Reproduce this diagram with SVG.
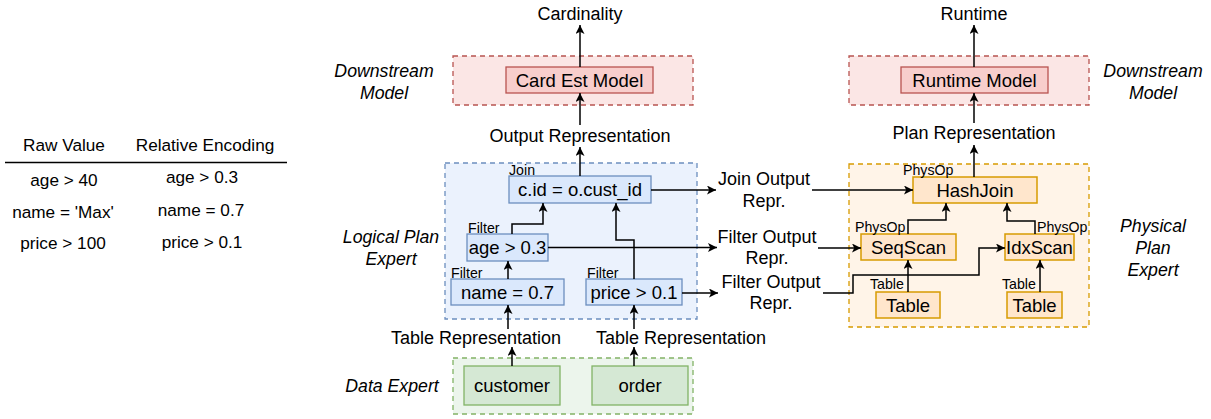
<svg xmlns="http://www.w3.org/2000/svg" width="1211" height="419" viewBox="0 0 1211 419">
<defs>
<marker id="arr" markerUnits="userSpaceOnUse" markerWidth="12" markerHeight="12" refX="9" refY="4.5" orient="auto">
<path d="M0,0 L9,4.5 L0,9 L2.2,4.5 z" fill="#000"/>
</marker>
<style>
text{font-family:"Liberation Sans",Arial,sans-serif;fill:#000}
.t{font-size:17.2px}
.lbl{font-size:18px;text-anchor:middle}
.it{font-size:17.7px;font-style:italic;text-anchor:middle}
.node{font-size:18.5px;text-anchor:middle}
.sm{font-size:14.2px}
.cred{fill:#f8cecc;fill-opacity:0.5;stroke:#b85450;stroke-width:1.3;stroke-dasharray:5 4}
.cblue{fill:#dae8fc;fill-opacity:0.55;stroke:#6c8ebf;stroke-width:1.3;stroke-dasharray:5 4}
.cgreen{fill:#d5e8d4;fill-opacity:0.45;stroke:#82b366;stroke-width:1.3;stroke-dasharray:5 4}
.corange{fill:#ffe6cc;fill-opacity:0.45;stroke:#d79b00;stroke-width:1.3;stroke-dasharray:5 4}
.red{fill:#f8cecc;stroke:#b85450;stroke-width:1.3}
.blue{fill:#dae8fc;stroke:#6c8ebf;stroke-width:1.3}
.green{fill:#d5e8d4;stroke:#82b366;stroke-width:1.3}
.orange{fill:#ffe6cc;stroke:#d79b00;stroke-width:1.5}
.c{fill:none;stroke:#000;stroke-width:1.5;marker-end:url(#arr)}
</style>
</defs>
<rect width="1211" height="419" fill="#fff"/>

<g id="encoding-table">
<text class="t" x="64" y="151" text-anchor="middle">Raw Value</text>
<text class="t" x="205" y="151" text-anchor="middle">Relative Encoding</text>
<line x1="5" y1="162.5" x2="287" y2="162.5" stroke="#000" stroke-width="1.3"/>
<text class="t" x="64" y="186" text-anchor="middle">age &gt; 40</text>
<text class="t" x="202" y="183" text-anchor="middle">age &gt; 0.3</text>
<text class="t" x="63" y="218" text-anchor="middle">name = 'Max'</text>
<text class="t" x="201" y="216" text-anchor="middle">name = 0.7</text>
<text class="t" x="63" y="249" text-anchor="middle">price &gt; 100</text>
<text class="t" x="202" y="248" text-anchor="middle">price &gt; 0.1</text>
</g>

<g id="containers">
<rect class="cred" x="453" y="56" width="240" height="49"/>
<rect class="cblue" x="445" y="163" width="252" height="156"/>
<rect class="cgreen" x="453" y="358" width="240" height="56"/>
<rect class="cred" x="849" y="56" width="240" height="49"/>
<rect class="corange" x="849" y="164" width="240" height="163"/>
</g>

<g id="side-labels">
<text class="it" x="384" y="77">Downstream</text>
<text class="it" x="384" y="99">Model</text>
<text class="it" x="391" y="243">Logical Plan</text>
<text class="it" x="391" y="265">Expert</text>
<text class="it" x="392" y="392">Data Expert</text>
<text class="it" x="1153" y="77">Downstream</text>
<text class="it" x="1153" y="99">Model</text>
<text class="it" x="1153" y="232">Physical</text>
<text class="it" x="1153" y="254">Plan</text>
<text class="it" x="1153" y="276">Expert</text>
</g>

<g id="free-labels">
<text class="lbl" x="580" y="20">Cardinality</text>
<text class="lbl" x="580" y="142">Output Representation</text>
<text class="lbl" x="476" y="344">Table Representation</text>
<text class="lbl" x="681" y="344">Table Representation</text>
<text class="lbl" x="974" y="20">Runtime</text>
<text class="lbl" x="974" y="139">Plan Representation</text>
<text class="lbl" x="764" y="185">Join Output</text>
<text class="lbl" x="764" y="207">Repr.</text>
<text class="lbl" x="767" y="243">Filter Output</text>
<text class="lbl" x="767" y="264">Repr.</text>
<text class="lbl" x="771" y="288">Filter Output</text>
<text class="lbl" x="771" y="309">Repr.</text>
</g>

<g id="card-est-model">
<rect class="red" x="506" y="67" width="147" height="26"/>
<text class="node" x="579.5" y="86.5">Card Est Model</text>
</g>
<g id="runtime-model">
<rect class="red" x="901" y="67" width="147" height="26"/>
<text class="node" x="974.5" y="86.5">Runtime Model</text>
</g>

<g id="join">
<rect class="blue" x="509" y="176" width="142" height="27"/>
<text class="sm" x="509" y="175">Join</text>
<text class="node" x="580" y="196">c.id = o.cust_id</text>
</g>
<g id="filter-age">
<rect class="blue" x="467" y="234" width="81" height="27"/>
<text class="sm" x="468" y="233">Filter</text>
<text class="node" x="507.5" y="254">age &gt; 0.3</text>
</g>
<g id="filter-name">
<rect class="blue" x="451" y="279" width="113" height="26"/>
<text class="sm" x="451" y="278">Filter</text>
<text class="node" x="507.5" y="298.5">name = 0.7</text>
</g>
<g id="filter-price">
<rect class="blue" x="586" y="279" width="96" height="26"/>
<text class="sm" x="587" y="278">Filter</text>
<text class="node" x="634" y="298.5">price &gt; 0.1</text>
</g>

<g id="customer">
<rect class="green" x="464" y="366" width="96" height="39"/>
<text class="node" x="512" y="392">customer</text>
</g>
<g id="order">
<rect class="green" x="592" y="366" width="96" height="39"/>
<text class="node" x="640" y="392">order</text>
</g>

<g id="hashjoin">
<rect class="orange" x="913" y="177" width="124" height="26"/>
<text class="sm" x="903" y="175">PhysOp</text>
<text class="node" x="975" y="196.5">HashJoin</text>
</g>
<g id="seqscan">
<rect class="orange" x="861" y="234" width="95" height="26"/>
<text class="sm" x="855" y="232">PhysOp</text>
<text class="node" x="908.5" y="253.5">SeqScan</text>
</g>
<g id="idxscan">
<rect class="orange" x="1005" y="234" width="69" height="26"/>
<text class="sm" x="1037" y="232">PhysOp</text>
<text class="node" x="1039.5" y="253.5">IdxScan</text>
</g>
<g id="table1">
<rect class="orange" x="876" y="292" width="64" height="26"/>
<text class="sm" x="870" y="289">Table</text>
<text class="node" x="908" y="311.5">Table</text>
</g>
<g id="table2">
<rect class="orange" x="1007" y="292" width="55" height="26"/>
<text class="sm" x="1002" y="289">Table</text>
<text class="node" x="1034.5" y="311.5">Table</text>
</g>

<g id="connectors">
<path class="c" d="M580,67 L580,25"/>
<path class="c" d="M580,125 L580,93"/>
<path class="c" d="M580,176 L580,147"/>
<path class="c" d="M508,279 L508,261"/>
<path class="c" d="M512,234 L512,224 L543,224 L543,203"/>
<path class="c" d="M634,279 L634,240 L616,240 L616,203"/>
<path class="c" d="M651,190 L716,190"/>
<path class="c" d="M548,247.5 L717,247.5"/>
<path class="c" d="M682,293 L718,293"/>
<path class="c" d="M508,329 L508,305"/>
<path class="c" d="M512,366 L512,347"/>
<path class="c" d="M634,329 L634,305"/>
<path class="c" d="M634,366 L634,347"/>
<path class="c" d="M812,190 L913,190"/>
<path class="c" d="M818,248 L861,248"/>
<path class="c" d="M823,293 L853,293 L853,275 L979,275 L979,248 L1005,248"/>
<path class="c" d="M908,234 L908,220 L946,220 L946,203"/>
<path class="c" d="M1035,234 L1035,221 L1007,221 L1007,203"/>
<path class="c" d="M908,292 L908,260"/>
<path class="c" d="M1040,292 L1040,260"/>
<path class="c" d="M974,177 L974,145"/>
<path class="c" d="M974,123 L974,93"/>
<path class="c" d="M974,67 L974,25"/>
</g>
</svg>
